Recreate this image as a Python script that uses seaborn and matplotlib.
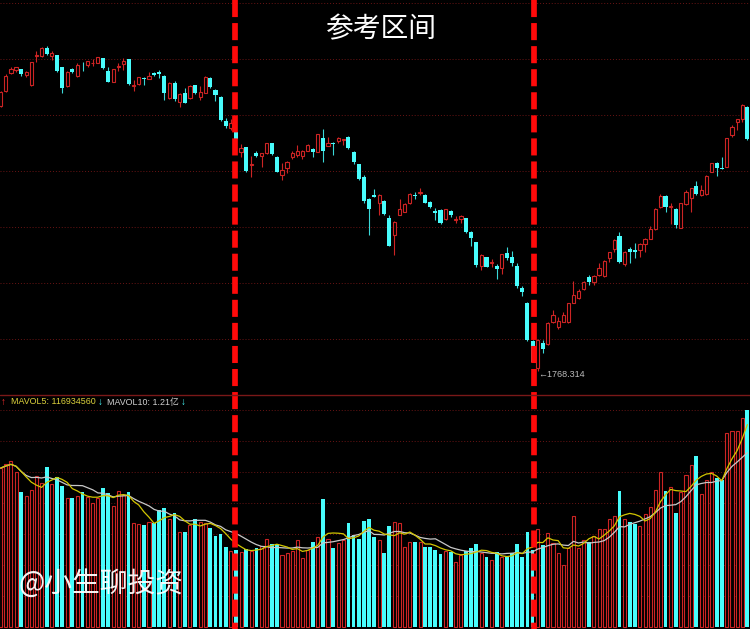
import numpy as np
import pandas as pd
import matplotlib
matplotlib.use("Agg")
import matplotlib.pyplot as plt
import seaborn as sns

# ---------------- data ----------------
open_ = [2298.6, 2328.6, 2363.4, 2370, 2371.4, 2360, 2340, 2398, 2398, 2413.4,
         2398.6, 2400, 2375.4, 2338, 2371.4, 2358.6, 2384.6, 2380, 2383.4, 2384.6,
         2393.4, 2368.6, 2346.6, 2377, 2381.4, 2391.4, 2338, 2342, 2353.4, 2352,
         2364.6, 2366.6, 2358, 2313.4, 2344.6, 2306, 2323.4, 2313.4, 2339.4, 2316.6,
         2324.6, 2354.6, 2330, 2316.6, 2268.6, 2253.4, 2246.6, 2206.6, 2215.4, 2180,
         2203.4, 2198, 2203.4, 2223.4, 2196.6, 2160, 2173.4, 2195.4, 2200.6, 2198.6,
         2208.6, 2212, 2206.6, 2233.4, 2218.6, 2224, 2228, 2229.4, 2236.6, 2206,
         2181.4, 2155.4, 2112, 2120, 2103.4, 2108, 2074.6, 2040, 2080.6, 2086.6,
         2104, 2120, 2124.6, 2120.6, 2106.6, 2088.6, 2090, 2071.4, 2088.6, 2070,
         2071.4, 2073.4, 2046.6, 2025.4, 1978.6, 1995.4, 1983.4, 1978.6, 1973.4, 2003.4,
         1996.6, 1978, 1933.4, 1904.6, 1828.6, 1774, 1823.4, 1822, 1866.6, 1856.6,
         1866.6, 1865.4, 1904.6, 1913.4, 1932, 1956.6, 1945.4, 1960, 1958, 1994.6,
         2012, 2038, 1982, 2011.4, 2009.4, 2010, 2021.4, 2032.6, 2051.4, 2096.6,
         2118, 2095.4, 2092, 2054.6, 2102, 2114.6, 2138, 2120, 2121.4, 2166.6,
         2184.6, 2174.6, 2176.6, 2240, 2265.4, 2271.4, 2296.6]
high = [2328, 2362, 2375.4, 2376.6, 2373, 2368, 2387, 2408.6, 2415.4, 2418,
        2408.6, 2401, 2377, 2368, 2373.4, 2383.4, 2386, 2388, 2392, 2396.6,
        2394.6, 2375.4, 2372.6, 2383.4, 2393.4, 2393, 2350, 2356.6, 2356.6, 2366.6,
        2366, 2370, 2359.4, 2346, 2348.6, 2324, 2333.4, 2339.4, 2340.6, 2338,
        2357.4, 2356, 2331.4, 2318, 2273.4, 2271.4, 2248, 2222, 2216.6, 2198,
        2208.6, 2204.6, 2224.6, 2224.6, 2198, 2183.4, 2188, 2208.6, 2220, 2210,
        2221.4, 2213.4, 2242.6, 2251.4, 2236.6, 2225.4, 2236.6, 2232.6, 2238, 2207.4,
        2182.6, 2160, 2113.4, 2132, 2121.4, 2109.4, 2080, 2068, 2111.4, 2103.4,
        2124.6, 2126.6, 2133.4, 2122, 2108, 2093.4, 2091.4, 2092.6, 2090, 2078,
        2079.4, 2074.6, 2048, 2026.6, 2001.4, 1996.6, 1992, 1982, 2002.6, 2015.4,
        2008, 1983.4, 1938, 1906, 1830, 1832, 1830, 1866.6, 1890, 1876.6,
        1885.4, 1904.6, 1948.6, 1931.4, 1948, 1960, 1959.4, 1984.6, 1989.4, 2006.6,
        2031.4, 2046.6, 2008, 2015.4, 2023.4, 2023.4, 2033.4, 2058, 2093.4, 2122,
        2119.4, 2103.4, 2093.4, 2104.6, 2130, 2134.6, 2148.6, 2140, 2160, 2184.6,
        2186, 2196.6, 2234.6, 2260, 2272.6, 2302, 2298]
low = [2296, 2326, 2361.4, 2366, 2358.6, 2356.6, 2338, 2386.6, 2396.6, 2400,
       2390, 2367, 2323.4, 2336.6, 2363.4, 2355.4, 2368.6, 2375.4, 2378.6, 2383.4,
       2372, 2345.4, 2345.4, 2368.6, 2370, 2340, 2328, 2340.6, 2340, 2351.4,
       2358, 2353.4, 2310, 2312, 2308.6, 2296.6, 2303.4, 2312, 2322, 2310,
       2323.4, 2334, 2308.6, 2268.6, 2253.4, 2250, 2230, 2196.6, 2166.6, 2155.4,
       2195.4, 2176.6, 2202, 2200.6, 2165.4, 2150, 2164.6, 2192, 2196.6, 2192,
       2207.4, 2195.4, 2205.4, 2186.6, 2218, 2200, 2224.6, 2220, 2212, 2182,
       2150.6, 2104.6, 2039.4, 2115.4, 2080, 2080, 2017.4, 2000, 2079.4, 2085.4,
       2102, 2111.4, 2120, 2103.4, 2094, 2070, 2061.4, 2070, 2076.6, 2064.6,
       2064.6, 2044, 2018.6, 1975.4, 1970, 1975.4, 1976.6, 1952, 1962, 1990,
       1978, 1934.6, 1918, 1828.6, 1785.4, 1768.314, 1803.4, 1820, 1863.4, 1851.4,
       1865.4, 1864, 1903.4, 1912, 1930, 1940, 1940, 1958, 1956.6, 1986.6,
       2006.6, 1984.6, 1978.6, 1983.4, 1993.4, 1995.4, 2006.6, 2031.4, 2050, 2093.4,
       2086, 2062, 2054.6, 2053.4, 2100.6, 2086.6, 2120.6, 2118.6, 2120, 2165.4,
       2158, 2171.4, 2175.4, 2236.6, 2250, 2266.6, 2230]
close = [2325.4, 2358.6, 2372, 2376, 2361.4, 2366.6, 2385.4, 2400, 2413.4, 2402,
         2403.4, 2368.6, 2333.4, 2366.6, 2365.4, 2380.6, 2383.4, 2387.4, 2384.6, 2395.4,
         2373.4, 2346.6, 2371.4, 2379, 2388, 2341.4, 2339.4, 2355.4, 2351.4, 2358.6,
         2359.4, 2361.4, 2323.4, 2344.6, 2311.4, 2322.6, 2304.6, 2338, 2323.4, 2326,
         2356, 2335.4, 2320, 2270, 2258.6, 2263.4, 2231.4, 2214.6, 2168, 2182,
         2198.6, 2203.4, 2223.4, 2202, 2166.6, 2170, 2186.6, 2204.6, 2207.4, 2208.6,
         2220, 2206.6, 2241.4, 2208, 2223.4, 2222, 2233.4, 2231.4, 2213.4, 2186,
         2152, 2108, 2092, 2116.6, 2120, 2081.4, 2018.6, 2066.6, 2091.4, 2102,
         2121.4, 2118, 2126.6, 2104.6, 2095.4, 2084.6, 2064.6, 2091.4, 2079.4, 2071.4,
         2078, 2045.4, 2033.4, 1980, 2000, 1976.6, 1985.4, 1972, 2001.4, 1993.4,
         1984.6, 1938, 1925.4, 1830, 1786.6, 1830, 1812, 1863.4, 1880, 1868.6,
         1880, 1903.4, 1920, 1928, 1946.6, 1945.4, 1958, 1974.6, 1988, 2005.4,
         2030, 1985.4, 2006.6, 2006.6, 2006, 2022, 2032, 2051.4, 2092, 2118,
         2095.4, 2098, 2060, 2103.4, 2125.4, 2133.4, 2122, 2130, 2158.6, 2183.4,
         2173.4, 2172.6, 2233.4, 2256.6, 2271.4, 2300, 2231.4]
# volume, millions
volume = [159, 163, 166, 155, 135, 131, 137, 151, 144, 160,
          143, 150, 141, 129, 129, 131, 135, 130, 124, 129,
          139, 134, 121, 136, 132, 135, 104, 103, 102, 105,
          104, 117, 119, 108, 114, 95, 95, 102, 108, 105,
          104, 99, 91, 93, 80, 76, 77, 75, 78, 76,
          79, 81, 88, 83, 83, 72, 74, 76, 87, 69,
          77, 85, 90, 128, 88, 79, 84, 87, 104, 92,
          88, 106, 108, 90, 87, 74, 101, 105, 104, 80,
          85, 85, 85, 80, 80, 77, 73, 76, 75, 65,
          72, 76, 79, 83, 74, 70, 67, 75, 70, 70,
          74, 83, 70, 95, 77, 98, 82, 94, 84, 74,
          62, 79, 111, 79, 87, 85, 91, 98, 98, 108,
          111, 136, 108, 105, 103, 101, 113, 120, 137, 155,
          136, 140, 114, 135, 152, 162, 171, 133, 147, 155,
          149, 147, 194, 196, 196, 209, 217]

title_text = "参考区间"
watermark = "@小生聊投资"
mavol5_label = "MAVOL5: 116934560"
mavol10_label = "MAVOL10: 1.21亿"
ref_interval = (45.72, 104.38)   # start / end of the reference interval (bar index)

# ---------------- build ----------------
df = pd.DataFrame({"open": open_, "high": high, "low": low, "close": close, "volume": volume})
df["idx"] = np.arange(len(df))
df["ma5"] = df["volume"].rolling(5, min_periods=1).mean()
df["ma10"] = df["volume"].rolling(10, min_periods=1).mean()
up = (df["close"] > df["open"]).values

sns.set_theme(style="dark")
plt.rcParams["font.family"] = ["Liberation Sans", "DejaVu Sans", "Noto Sans CJK SC"]
plt.rcParams["axes.facecolor"] = "black"
plt.rcParams["figure.facecolor"] = "black"
plt.rcParams["savefig.facecolor"] = "black"

RED = "#cc2424"
CYAN = "#48fcfc"
GRID = "#6a1414"

W, H = 750, 629
fig = plt.figure(figsize=(W / 100, H / 100), dpi=100)
split = 395
ax_p = fig.add_axes([0, 1 - split / H, 1, split / H])
ax_v = fig.add_axes([0, 0, 1, (H - split - 1) / H])
xlim = (-0.137, 146.52)

idx = df["idx"].values
o, h, l, c, v = (df[k].values for k in ["open", "high", "low", "close", "volume"])
body_lo = np.minimum(o, c)
body_h = np.maximum(np.abs(c - o), 1.6)

# price panel
ax_p.vlines(idx[up], l[up], h[up], color=RED, lw=0.8, zorder=1)
ax_p.vlines(idx[~up], l[~up], h[~up], color="#3ad8d8", lw=0.8, zorder=1)
ax_p.bar(idx[up], body_h[up], bottom=body_lo[up], width=0.62, facecolor="black",
         edgecolor=RED, linewidth=0.8, zorder=2)
ax_p.bar(idx[~up], body_h[~up], bottom=body_lo[~up], width=0.8, color=CYAN,
         linewidth=0, zorder=2)
ax_p.set_xlim(*xlim)
ax_p.set_ylim(1720, 2510)
ax_p.set_yticks([1832, 1944, 2056, 2168, 2280, 2392, 2504])
ax_p.grid(axis="y", color=GRID, linestyle=(0, (1, 2)), linewidth=0.7)
ax_p.grid(axis="x", visible=False)

imin = int(np.argmin(l))
ax_p.annotate("\u2190" + f"{l[imin]:.3f}", xy=(idx[imin], l[imin]), xytext=(0, -2.5),
              textcoords="offset points", ha="left", va="center", color="#bcbcbc",
              fontsize=6.5, zorder=5)

# volume panel
ax_v.bar(idx[up], v[up], width=0.6, facecolor="black", edgecolor=RED, linewidth=0.8, zorder=2)
ax_v.bar(idx[~up], v[~up], width=0.74, color=CYAN, linewidth=0, zorder=2)
sns.lineplot(data=df, x="idx", y="ma10", ax=ax_v, color="#c8c8c8", linewidth=0.9, zorder=3)
sns.lineplot(data=df, x="idx", y="ma5", ax=ax_v, color="#d2c600", linewidth=0.9, zorder=4)
ax_v.set_xlim(*xlim)
ax_v.set_ylim(-2, 231)
ax_v.set_yticks([31, 62, 93, 124, 155, 186, 217])
ax_v.grid(axis="y", color=GRID, linestyle=(0, (1, 2)), linewidth=0.7)
ax_v.grid(axis="x", visible=False)

for ax in (ax_p, ax_v):
    ax.set_xlabel("")
    ax.set_ylabel("")
    ax.tick_params(left=False, bottom=False, labelleft=False, labelbottom=False)
    for s in ax.spines.values():
        s.set_visible(False)

# separator line between panels
fig.add_artist(plt.Line2D([0, 1], [1 - split / H] * 2, color="#7a1818", lw=1.0))

# overlay: reference interval dashed lines
ax_o = fig.add_axes([0, 0, 1, 1])
ax_o.set_xlim(*xlim)
ax_o.set_ylim(0, 1)
ax_o.axis("off")
ax_o.patch.set_alpha(0)
for xv in ref_interval:
    ax_o.plot([xv, xv], [1, 0], color="#ff0a0a", lw=4.1, linestyle=(0, (3.0, 1.05)),
              dash_capstyle="butt", solid_capstyle="butt")


def px(x, y):
    return x / W, 1 - y / H


fig.text(*px(381, 29), title_text, color="white", fontsize=20, ha="center", va="center",
         family=["Noto Sans CJK SC", "DejaVu Sans"])
fig.text(*px(18, 584), watermark, color="white", fontsize=20, ha="left", va="center",
         family=["Noto Sans CJK SC", "DejaVu Sans"], alpha=0.95)

ly = 402
fs = 6.4
fig.text(*px(1, ly), "\u2191", color="#ff3030", fontsize=7, ha="left", va="center")
fig.text(*px(11, ly), mavol5_label, color="#dcd23c", fontsize=fs, ha="left", va="center")
fig.text(*px(98, ly), "\u2193", color=CYAN, fontsize=7, ha="left", va="center")
fig.text(*px(107, ly), mavol10_label, color="#d0d0d0", fontsize=fs, ha="left", va="center",
         family=["Liberation Sans", "Noto Sans CJK SC"])
fig.text(*px(181, ly), "\u2193", color=CYAN, fontsize=7, ha="left", va="center")

fig.savefig("out.png", dpi=100, facecolor="black")
